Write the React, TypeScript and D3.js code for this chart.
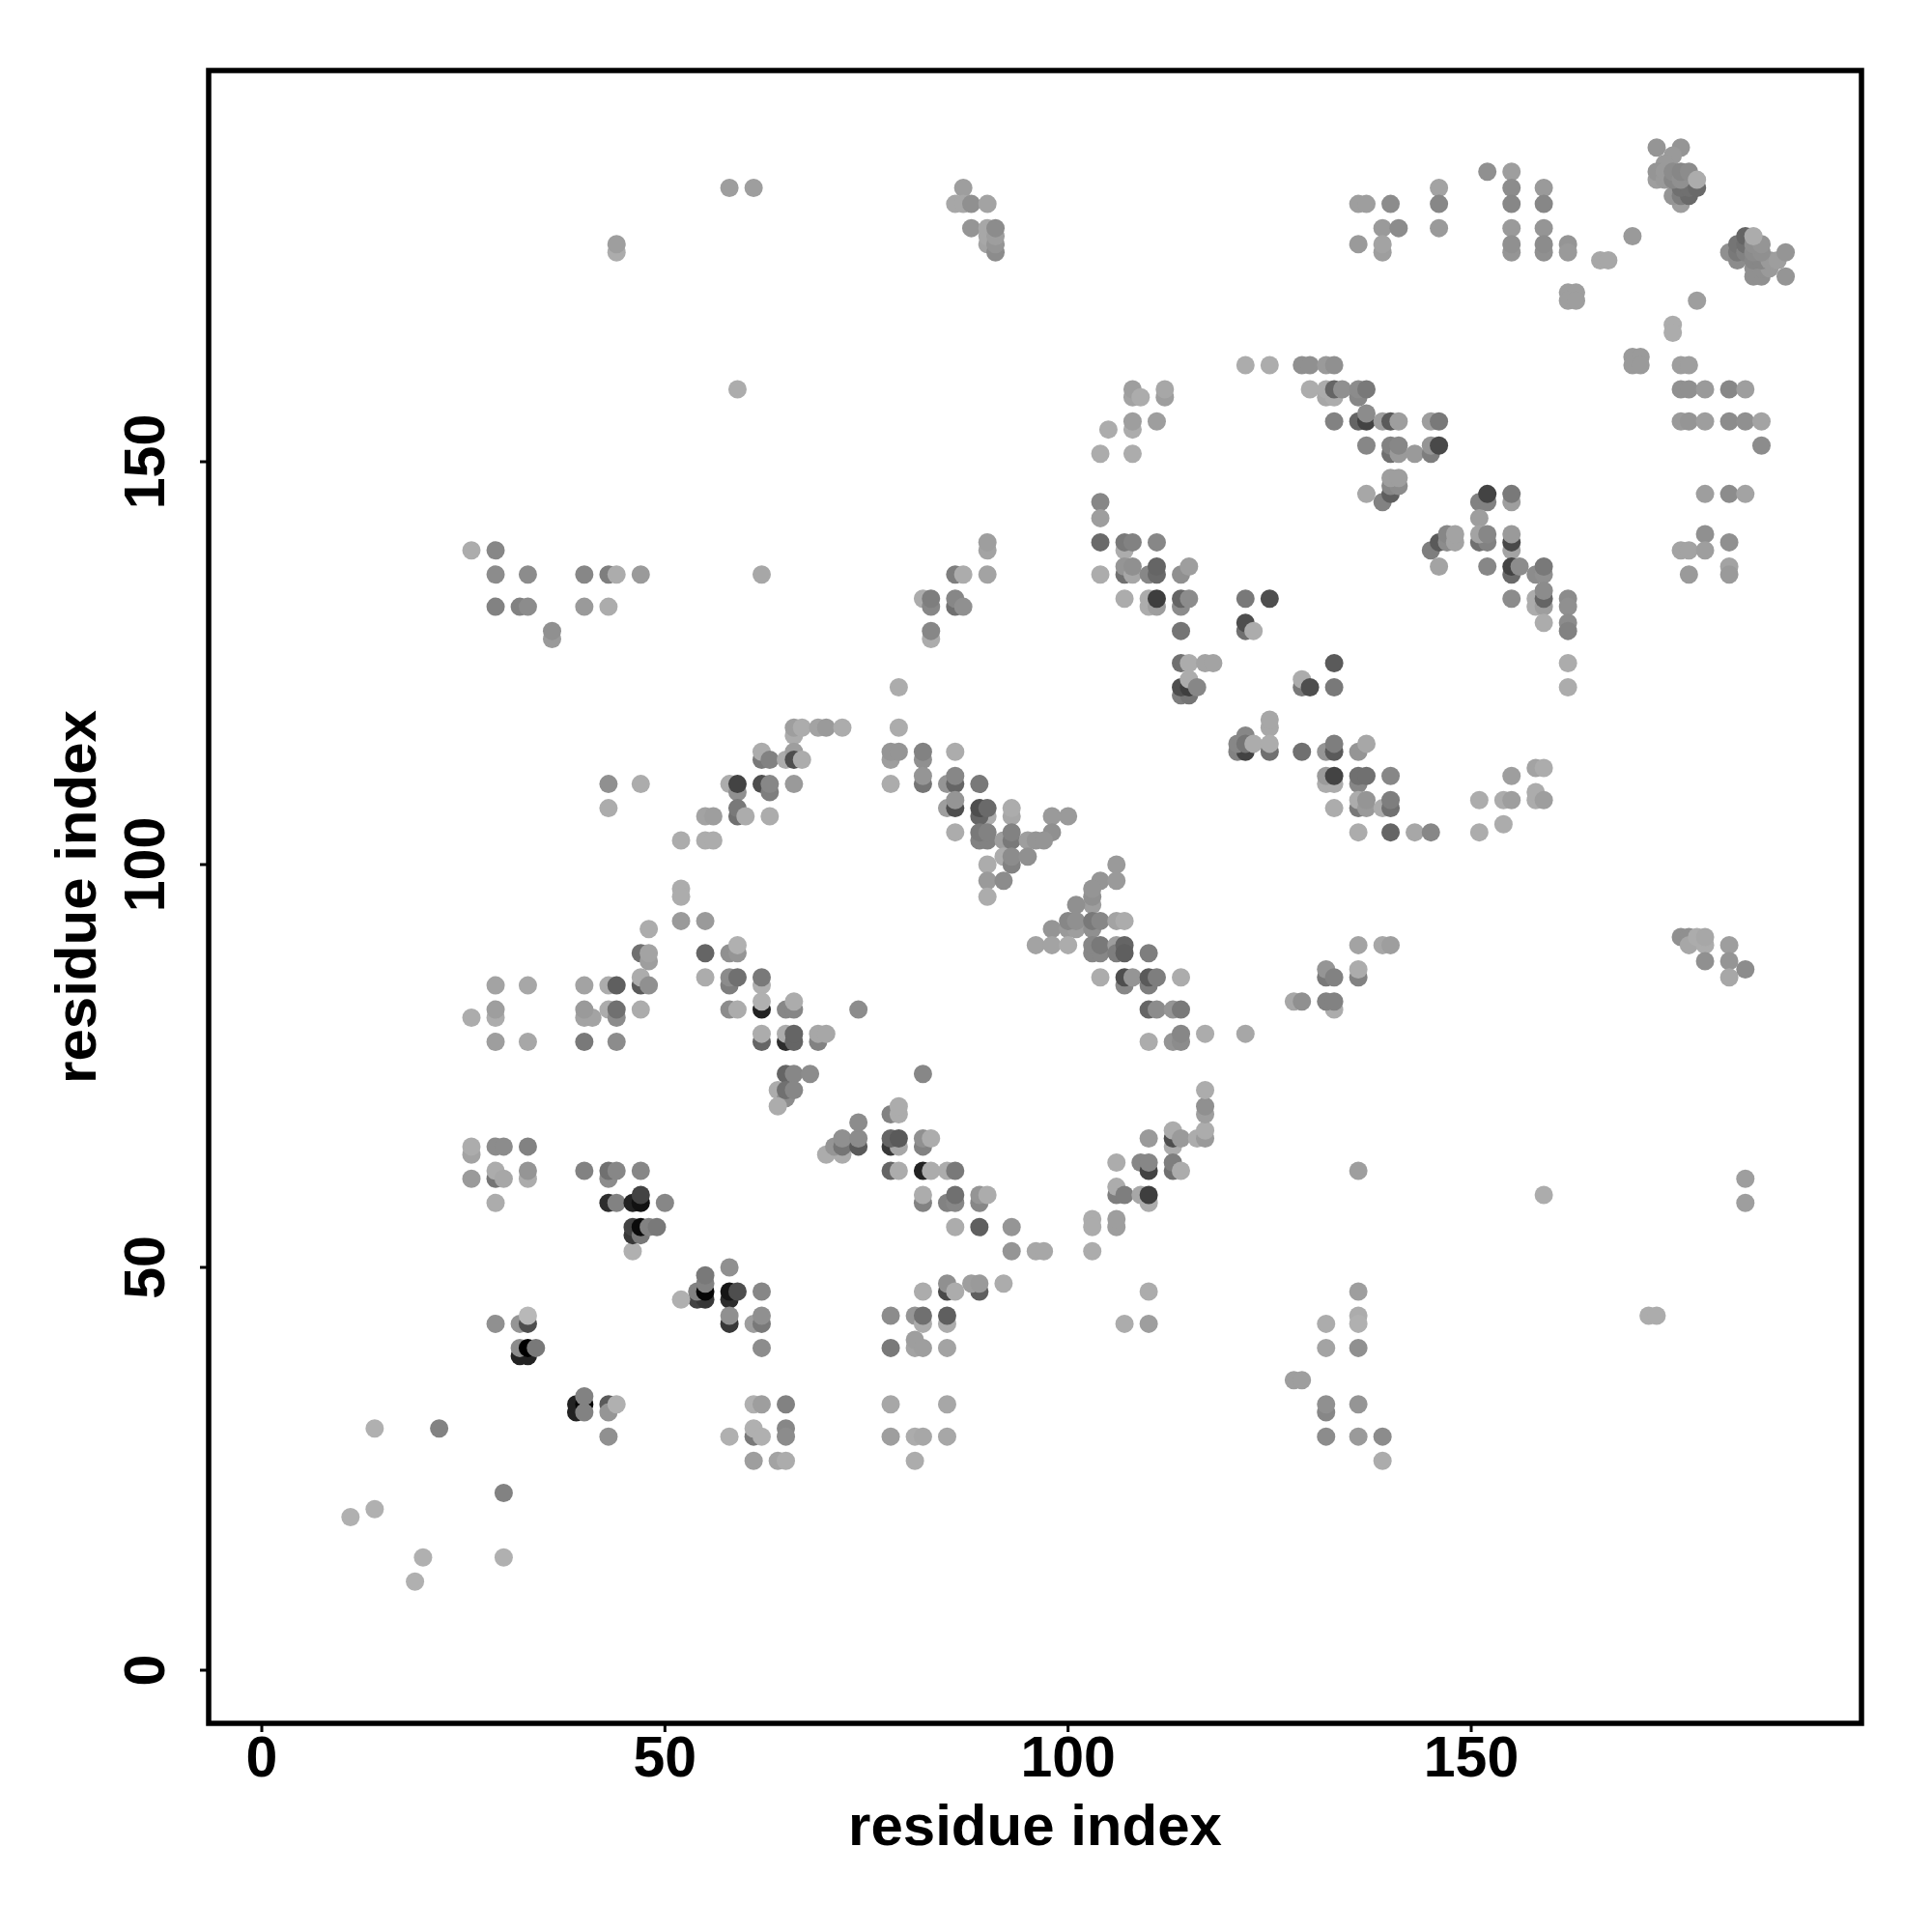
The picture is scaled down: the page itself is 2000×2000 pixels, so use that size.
import React from "react";
import * as d3 from "d3";

type P = [number, number, number];

const xTicks = [0, 50, 100, 150];
const yTicks = [0, 50, 100, 150];
const xTitle = "residue index";
const yTitle = "residue index";

// [residue x, residue y, grey level]
const lowerLeft: P[] = [
  [11,19,170],[14,20,170],[14,30,170],[22,30,120],[30,22,120],[20,14,170],[30,14,170],[19,11,170],
  [39,32,30],[39,33,30],[40,33,5],[40,32,120],[40,34,120],[43,33,80],[43,32,140],[44,33,170],[43,29,135],
  [29,43,135],[32,43,140],[33,43,70],[33,44,180],[32,39,30],[33,39,30],[32,40,130],[33,40,0],[34,40,110],
  [46,52,170],[46,54,50],[46,55,60],[47,54,110],[47,55,10],[48,55,120],[49,55,110],
  [58,50,135],[54,46,60],[55,46,50],[54,47,120],[55,47,5],[55,48,120],[55,49,110],[52,46,170],
  [58,46,40],[58,47,20],[59,47,70],[62,47,125],[58,43,50],[58,44,135],[61,43,150],[62,43,110],[62,44,135],[62,40,130],
  [61,33,170],[62,33,150],[65,33,120],[65,30,125],[65,29,130],[61,29,110],[61,30,170],[58,29,170],[62,29,170],
  [61,26,150],[64,26,155],[65,26,165],
];

const lowerCentre: P[] = [
  [78,33,160],[85,33,160],[78,29,150],[81,29,165],[82,29,160],[85,29,160],[81,26,165],
  [128,36,150],[129,36,150],[132,32,125],[132,33,135],[132,29,130],[136,33,140],[136,29,145],[139,29,130],[139,26,165],
  [132,43,165],[132,40,155],[136,47,150],[136,44,165],[136,43,170],[136,40,135],
  [107,43,165],[110,47,165],[110,43,150],[172,44,165],[173,44,165],
  [78,44,130],[81,44,140],[82,43,165],[82,44,100],[85,43,165],[85,44,85],
  [78,40,110],[81,40,155],[81,41,150],[82,40,150],[85,40,155],[82,47,165],
  [85,47,65],[85,48,135],[86,47,165],[89,47,85],[88,48,150],[89,48,145],[92,48,165],
  [93,55,140],[93,52,140],[89,55,85],[86,55,165],[96,52,160],[97,52,160],[103,52,165],
  [103,56,165],[103,55,165],[106,55,150],[106,56,150],
];

const leftMiddle: P[] = [
  [26,64,155],[26,65,165],[29,65,130],[30,65,130],[33,65,120],[26,61,145],[29,61,105],[29,62,165],[30,61,160],
  [33,61,165],[33,62,140],[29,58,165],
  [40,62,120],[43,61,130],[43,62,100],[44,62,125],[47,62,125],[43,58,40],[44,58,120],[46,58,30],[47,58,15],[47,59,60],[50,58,125],
  [29,85,155],[33,85,160],[40,85,155],[43,85,165],[44,85,85],[47,85,80],[47,86,165],[48,85,135],
  [26,81,165],[29,81,165],[29,82,150],[40,81,155],[41,81,155],[40,82,145],[43,82,165],[44,81,130],[44,82,100],[47,82,165],
  [29,78,150],[33,78,160],[40,78,110],[44,78,130],
];

const rising: P[] = [
  [52,97,165],[52,96,165],[52,93,145],[55,93,145],[48,92,165],[47,89,100],[48,88,150],[48,89,155],
  [47,110,165],[43,110,135],[43,107,165],
  [66,116,165],[66,117,150],[67,117,165],[69,117,155],[70,117,145],[72,117,165],
  [62,113,110],[62,114,165],[63,113,120],[65,113,165],[66,114,150],[66,113,70],[67,113,165],
  [58,110,165],[59,109,135],[59,110,60],[62,110,70],[63,109,115],[63,110,125],[66,110,145],
  [59,106,100],[59,107,110],[60,106,165],[63,106,165],[55,106,155],[56,106,150],
  [52,103,165],[55,103,165],[56,103,165],
];

const falling: P[] = [
  [55,89,90],[58,89,135],[59,89,140],[59,90,170],[55,86,165],[58,85,115],[58,86,130],[59,86,100],
  [62,85,170],[62,86,110],[62,82,30],[62,83,170],[58,82,130],[59,82,165],
  [65,82,125],[66,82,125],[66,83,165],[62,78,90],[62,79,165],[65,78,40],[65,79,165],[66,78,90],[66,79,90],
  [69,78,120],[69,79,160],[70,79,160],[74,82,130],[65,74,90],[66,74,125],[68,74,130],[64,72,165],[65,71,130],[64,70,165],[65,72,100],[66,72,125],
  [70,64,165],[72,64,165],[71,65,140],[72,65,105],[72,66,135],[74,65,80],[74,66,130],[74,68,130],
  [78,69,120],[79,69,165],[79,70,165],[78,65,50],[79,65,160],[78,66,90],[79,66,80],[82,65,120],[82,66,135],[83,66,165],
  [78,62,90],[79,62,165],[82,62,30],[83,62,165],[85,62,165],[86,62,110],[82,58,120],[82,59,165],[85,58,120],[86,58,125],[86,59,100],[89,58,125],[89,59,140],[90,59,165],
  [82,74,125],
];

const centre: P[] = [
  [79,122,165],[79,117,165],[78,113,150],[78,114,140],[79,114,140],[78,110,165],
  [82,113,135],[82,114,120],[82,110,105],[82,111,140],[86,114,165],[85,110,140],[86,110,90],[86,111,125],[89,110,110],
  [85,107,150],[86,107,70],[86,108,140],[86,104,165],
  [90,106,165],[89,106,90],[89,107,70],[90,107,95],[93,106,160],[93,107,165],
  [89,103,120],[90,103,120],[89,104,110],[90,104,120],[92,103,150],[92,101,165],[93,103,110],[93,104,120],[93,100,120],[93,101,130],
  [98,106,145],[100,106,145],[98,104,135],[95,103,150],[96,103,140],[97,103,140],[95,101,135],
  [90,100,165],[90,98,145],[92,98,130],[90,96,165],
  [106,100,145],[104,98,140],[106,98,145],[103,95,150],[103,96,135],[103,97,140],[101,95,135],
  [98,92,140],[100,92,145],[101,92,150],[103,92,135],[100,93,125],[101,93,135],[103,93,110],[104,93,125],[106,93,155],[107,93,165],
  [96,90,155],[98,90,155],[100,90,165],[103,89,125],[104,89,125],[103,90,125],[104,90,110],[106,90,150],[106,89,115],[107,90,90],[107,89,85],[110,89,115],
  [104,86,165],[107,85,125],[107,86,70],[108,86,140],[110,85,115],[110,86,80],[111,86,115],[114,86,165],
  [110,82,90],[111,82,130],[113,82,140],[114,82,110],[110,78,165],[113,78,140],[114,78,130],[114,79,125],[117,79,165],[122,79,160],
  [110,66,145],[113,65,165],[113,66,70],[113,67,165],[114,66,145],[116,66,165],[117,66,145],[117,67,165],[117,69,150],[117,70,135],[117,72,165],
  [106,63,165],[109,63,125],[110,62,60],[110,63,125],[113,62,100],[113,63,115],[114,62,165],
  [106,59,115],[106,60,165],[107,59,115],[109,59,160],[110,58,165],[110,59,55],
  [136,62,150],[159,59,165],[184,61,150],[184,58,150],
];

const midRight: P[] = [
  [125,117,160],[125,118,160],[122,116,125],[121,114,120],[122,114,60],[121,115,125],[122,115,105],[123,115,165],[125,114,100],[125,115,165],
  [129,114,100],[132,114,140],[133,114,80],[133,115,115],[136,114,140],[137,115,160],
  [132,110,165],[133,110,165],[132,111,145],[133,111,60],[136,110,125],[136,111,100],[137,111,100],[140,111,125],
  [133,107,165],[136,107,110],[136,108,165],[137,107,145],[137,108,140],[139,107,165],[140,107,100],[140,108,115],
  [136,104,165],[140,104,90],[143,104,160],[145,104,125],[151,104,165],[154,105,165],
  [151,108,165],[154,108,165],[155,108,150],[155,111,150],[158,112,155],[159,112,165],[158,108,165],[158,109,165],[159,108,150],
  [136,90,155],[139,90,160],[140,90,150],[132,86,110],[132,87,140],[133,86,120],[136,86,120],[136,87,165],
  [128,83,160],[129,83,135],[133,82,165],[132,83,120],[133,83,120],
  [176,91,135],[177,91,135],[177,90,160],[178,91,165],[179,90,165],[179,91,160],[179,88,135],[182,90,150],[182,88,140],[182,86,160],[184,87,130],
];

const upperArc: P[] = [
  [122,162,165],[125,162,165],[129,162,135],[130,162,135],[132,162,145],[133,162,135],
  [130,159,165],[132,158,160],[133,158,165],[132,159,165],[133,159,90],[134,159,135],[136,158,125],[136,159,130],[137,159,110],
  [133,155,120],[136,155,90],[137,155,60],[137,156,130],[139,155,150],[140,155,80],[141,155,150],[145,155,150],[146,155,110],
  [137,152,125],[140,151,100],[140,152,120],[141,151,145],[141,152,125],[143,151,145],[145,151,115],[145,152,140],[146,152,65],
  [139,145,120],[140,146,85],[140,147,125],[141,147,130],[140,148,150],[141,148,150],[137,146,160],
  [108,158,155],[108,159,150],[109,158,165],[112,158,150],[112,159,160],[108,154,165],[108,155,150],[111,155,150],[105,154,165],[104,151,165],[108,151,165],
  [104,145,125],[104,143,150],[104,140,95],[107,139,165],[107,140,110],[108,140,120],[111,140,125],
  [104,136,165],[107,136,100],[107,137,140],[108,136,160],[108,137,135],[110,136,125],[111,136,95],[111,137,90],[114,136,135],[115,137,150],
  [107,133,165],[110,132,165],[110,133,165],[111,132,150],[111,133,55],[114,132,130],[114,133,90],[115,133,130],
  [114,129,105],[122,133,110],[125,133,70],[122,129,100],[122,130,70],[123,129,165],
  [114,125,100],[115,125,165],[117,125,155],[118,125,155],
  [114,121,115],[115,121,105],[114,122,70],[115,122,55],[115,123,165],[116,122,125],
  [129,122,110],[129,123,165],[130,122,70],[133,125,80],[133,122,110],[162,125,165],[162,122,165],
];

const diagonalRight: P[] = [
  [151,145,120],[152,145,120],[152,146,60],[155,145,150],[155,146,110],[151,143,150],
  [151,140,100],[152,140,120],[151,141,155],[152,141,125],[155,139,155],[155,140,65],[155,141,145],
  [145,139,115],[146,140,80],[147,140,130],[147,141,125],[148,140,155],[148,141,155],[146,137,155],
  [152,137,125],[155,136,95],[155,137,60],[156,137,130],[158,136,130],[159,136,135],[159,137,110],
  [155,133,130],[158,132,165],[158,133,165],[159,132,150],[159,133,90],[159,134,130],[159,130,165],
  [162,133,130],[162,132,135],[162,130,130],[162,129,120],
];

const upperLeft: P[] = [
  [26,139,165],[29,139,125],[29,136,130],[33,136,130],[40,136,125],[43,136,115],[44,136,165],[47,136,145],
  [29,132,120],[32,132,120],[33,132,130],[40,132,145],[43,132,165],[36,128,145],[36,129,135],[62,136,160],
  [83,128,165],[83,129,125],[82,133,165],[83,132,125],[83,133,115],[86,132,100],[86,133,125],[87,132,135],
  [86,136,115],[87,136,165],[90,136,155],[90,139,155],[90,140,150],[59,159,165],
];

const topRow: P[] = [
  [58,184,150],[61,184,150],[44,176,165],[44,177,150],
  [87,184,150],[86,182,160],[87,182,160],[88,182,135],[90,182,155],
  [88,179,140],[90,177,155],[90,178,160],[90,179,160],[91,176,130],[91,177,140],[91,178,150],[91,179,130],
  [136,182,150],[137,182,150],[140,182,130],[139,179,145],[141,179,130],[136,177,145],[139,176,150],[139,177,155],
  [146,184,155],[146,182,125],[146,179,145],
  [152,186,135],[155,186,150],[155,184,130],[155,182,125],[159,184,145],[159,182,125],
  [155,179,145],[155,176,140],[155,177,135],[159,179,140],[159,176,135],[159,177,130],[162,177,140],[162,176,145],
  [166,175,160],[167,175,160],[162,171,150],[163,171,150],[162,170,150],[163,170,150],
  [170,178,145],[178,170,150],[175,167,165],[175,166,165],
];

const upperRight: P[] = [
  [170,163,145],[171,163,145],[170,162,145],[171,162,145],[176,162,150],[177,162,150],
  [176,159,135],[177,159,135],[179,159,145],[182,159,125],[184,159,150],
  [176,155,145],[177,155,140],[179,155,150],[182,155,130],[184,155,135],[186,155,155],[186,152,130],
  [179,146,150],[182,146,130],[184,146,155],[179,141,135],[182,140,135],[176,139,155],[177,139,155],[179,139,150],
  [182,137,155],[182,136,145],[177,136,145],
];

const cornerClusters: P[] = [
  [173,189,140],[176,189,140],[175,188,145],[174,187,145],[173,185,150],[173,186,140],[174,185,145],[174,186,145],
  [176,182,150],[175,183,140],[176,183,115],[177,183,95],[176,184,100],[177,184,100],[178,184,95],
  [175,185,125],[175,186,130],[176,185,135],[176,186,125],[177,186,130],[178,185,165],
  [182,176,135],[183,175,130],[183,176,110],[183,177,105],[184,176,120],[184,177,100],[184,178,90],
  [185,173,135],[186,173,135],[185,174,135],[186,174,135],[187,174,145],[185,175,125],[186,175,125],[187,175,145],[188,175,150],
  [185,176,130],[186,176,135],[185,177,135],[186,177,140],[185,178,165],[189,176,140],[189,173,140],
];

const allPoints: P[] = [
  ...lowerLeft, ...lowerCentre, ...leftMiddle, ...rising, ...falling, ...centre,
  ...midRight, ...upperArc, ...diagonalRight, ...upperLeft, ...topRow, ...upperRight, ...cornerClusters,
];

const FONT = "'Liberation Sans', Arial, Helvetica, sans-serif";

export default function App() {
  const x = d3.scaleLinear().domain([0, 150]).range([271, 1523]);
  const y = d3.scaleLinear().domain([0, 150]).range([1729, 478]);
  const tone = d3.scaleLinear().domain([0, 100, 165, 180]).range([0, 112, 172, 184]);
  const frame = { left: 216, right: 1927, top: 73, bottom: 1784 };
  const cx = (frame.left + frame.right) / 2;
  const cy = (frame.top + frame.bottom) / 2;
  return (
    <svg
      width={2000}
      height={2000}
      viewBox="0 0 2000 2000"
      style={{ position: "absolute", left: 0, top: 0, background: "#fff" }}
    >
      <g>
        {allPoints.map(([a, b, g], i) => {
          const v = Math.round(tone(g));
          return <circle key={i} cx={x(a)} cy={y(b)} r={9.5} fill={d3.rgb(v, v, v).formatHex()} />;
        })}
      </g>
      <rect
        x={frame.left}
        y={frame.top}
        width={frame.right - frame.left}
        height={frame.bottom - frame.top}
        fill="none"
        stroke="#000"
        strokeWidth={5.5}
      />
      {xTicks.map((t) => (
        <g key={"x" + t}>
          <line x1={x(t)} x2={x(t)} y1={frame.bottom} y2={frame.bottom + 9} stroke="#000" strokeWidth={3} />
          <text x={x(t)} y={1839} textAnchor="middle" fontFamily={FONT} fontWeight="bold" fontSize={59}>
            {t}
          </text>
        </g>
      ))}
      {yTicks.map((t) => (
        <g key={"y" + t}>
          <line x1={frame.left - 9} x2={frame.left} y1={y(t)} y2={y(t)} stroke="#000" strokeWidth={3} />
          <text
            transform={`translate(170,${y(t)}) rotate(-90)`}
            textAnchor="middle"
            fontFamily={FONT}
            fontWeight="bold"
            fontSize={59}
          >
            {t}
          </text>
        </g>
      ))}
      <text x={cx} y={1910} textAnchor="middle" fontFamily={FONT} fontWeight="bold" fontSize={60}>
        {xTitle}
      </text>
      <text
        transform={`translate(99,${cy}) rotate(-90)`}
        textAnchor="middle"
        fontFamily={FONT}
        fontWeight="bold"
        fontSize={60}
      >
        {yTitle}
      </text>
    </svg>
  );
}
